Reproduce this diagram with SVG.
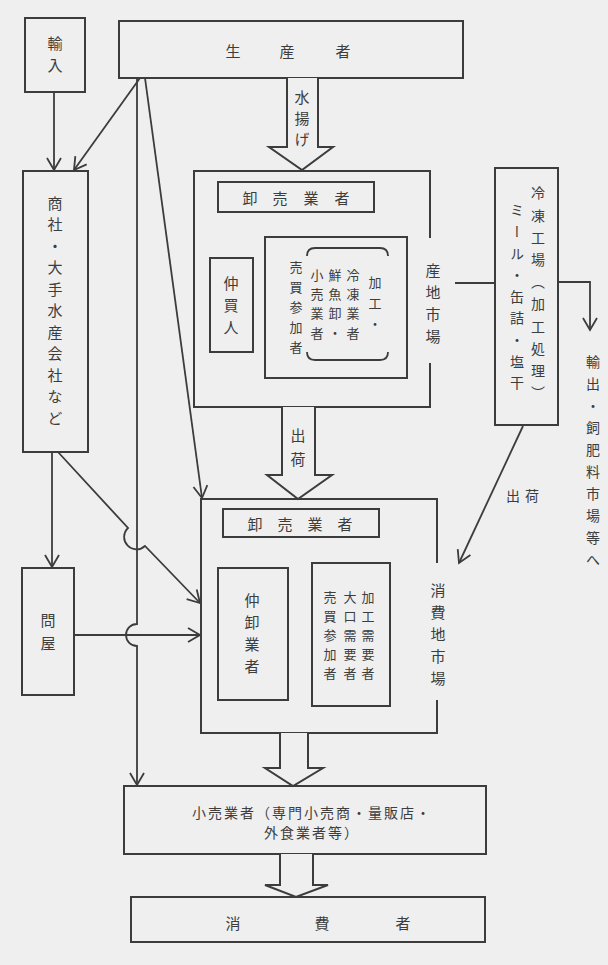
<svg xmlns="http://www.w3.org/2000/svg" width="608" height="965" viewBox="0 0 608 965">
<style>
.bg{fill:#efefef}
.box{fill:none;stroke:#3c3c3c;stroke-width:2}
.ln{fill:none;stroke:#3c3c3c;stroke-width:1.8}
.ha{fill:#efefef;stroke:#3c3c3c;stroke-width:2;stroke-linejoin:miter}
.t{font-family:"Noto Sans CJK JP","Noto Sans CJK SC",sans-serif;fill:#3d3d3d;font-size:15px}
.s{font-size:13px}
.m{font-size:14px}
.v{writing-mode:vertical-rl;text-anchor:middle}
.h{text-anchor:middle;dominant-baseline:central}
</style>
<defs>
<marker id="ah" viewBox="0 0 12 14" refX="12" refY="7" markerWidth="12" markerHeight="14" markerUnits="userSpaceOnUse" orient="auto" overflow="visible">
<path d="M0,0 L12,7 L0,14" fill="none" stroke="#3c3c3c" stroke-width="1.8"/>
</marker>
</defs>
<rect class="bg" x="0" y="0" width="608" height="965"/>

<g id="import">
<rect class="box" x="25" y="18" width="60" height="74"/>
<text class="t v" x="55" y="43 65">輸入</text>
</g>

<g id="producer">
<rect class="box" x="119" y="21" width="344" height="57"/>
<text class="t h" x="233 287 343" y="50">生産者</text>
</g>

<g id="trading">
<rect class="box" x="23" y="171" width="65" height="281"/>
<text class="t v" x="55" y="203 224.5 246 267.5 289 310.5 332 353.5 375 396.5 418">商社・大手水産会社など</text>
</g>

<g id="wholesaler">
<rect class="box" x="22" y="568" width="52" height="127"/>
<text class="t v" x="48" y="620 643">問屋</text>
</g>

<g id="origin-market">
<path class="box" d="M430,238 L430,171 L194,171 L194,407 L430,407 L430,363"/>
<text class="t v" x="433" y="270 292 314 336">産地市場</text>
<rect class="box" x="218" y="182" width="156" height="30"/>
<text class="t h" x="250 280 311 342" y="197">卸売業者</text>
<rect class="box" x="210" y="258" width="43" height="94"/>
<text class="t v" x="231" y="283 305 327">仲買人</text>
<rect class="box" x="265" y="237" width="142" height="141"/>
<path class="ln" d="M307,256 Q307,248 315,248 L380,248 Q388,248 388,256"/>
<path class="ln" d="M307,352 Q307,360 315,360 L380,360 Q388,360 388,352"/>
<text class="t s v" x="375" y="282 303 324">加工・</text>
<text class="t s v" x="353" y="275 294 313 333">冷凍業者</text>
<text class="t s v" x="335" y="275 294 313 333">鮮魚卸・</text>
<text class="t s v" x="317" y="275 294 313 333">小売業者</text>
<text class="t s v" x="296" y="267 287 307 327 347">売買参加者</text>
</g>

<g id="processing">
<rect class="box" x="495" y="168" width="63" height="257"/>
<text class="t m v" x="538" y="193 215.2 237.4 259.6 281.8 304 326.2 348.4 370.6 392.8">冷凍工場（加工処理）</text>
<text class="t m v" x="517" y="210 231.6 253.2 274.8 296.4 318 339.6 361.2 382.8">ミール・缶詰・塩干</text>
</g>

<g id="export">
<text class="t m v" x="593" y="362 384 406 428 450 472 494 516 538 560">輸出・飼肥料市場等へ</text>
</g>

<g id="consumer-market">
<path class="box" d="M437,563 L437,499 L201,499 L201,733 L437,733 L437,700"/>
<text class="t v" x="438" y="590 612 634 656 678">消費地市場</text>
<rect class="box" x="223" y="509" width="156" height="28"/>
<text class="t h" x="255 285 315 345" y="523">卸売業者</text>
<rect class="box" x="218" y="568" width="70" height="132"/>
<text class="t v" x="252" y="600 622 644 666">仲卸業者</text>
<rect class="box" x="312" y="563" width="78" height="143"/>
<text class="t s v" x="368" y="597 616 635 654 673">加工需要者</text>
<text class="t s v" x="350" y="597 616 635 654 673">大口需要者</text>
<text class="t s v" x="330" y="597 616 635 654 673">売買参加者</text>
</g>

<g id="retailer">
<rect class="box" x="124" y="786" width="362" height="68"/>
<text class="t m h" x="312" y="812" letter-spacing="2">小売業者（専門小売商・量販店・</text>
<text class="t m h" x="312" y="832" letter-spacing="2">外食業者等）</text>
</g>

<g id="consumer">
<rect class="box" x="131" y="897" width="354" height="45"/>
<text class="t h" x="233 322 403" y="922">消費者</text>
</g>

<g id="connectors">
<path class="ln" d="M54,92 L54,170" marker-end="url(#ah)"/>
<path class="ln" d="M140,78 L74,170" marker-end="url(#ah)"/>
<path class="ln" d="M137,78 L137,624 A11,11 0 0 0 137,646 L137,785" marker-end="url(#ah)"/>
<path class="ln" d="M145,78 L202,498" marker-end="url(#ah)"/>
<path class="ln" d="M52,452 L52,567" marker-end="url(#ah)"/>
<path class="ln" d="M58,452 L128,528 A12,12 0 0 0 145,546 L200,603" marker-end="url(#ah)"/>
<path class="ln" d="M74,635 L200,635" marker-end="url(#ah)"/>
<path class="ln" d="M455,283 L495,283"/>
<path class="ln" d="M558,282 L590,282 L590,330" marker-end="url(#ah)"/>
<path class="ln" d="M523,426 L459,563" marker-end="url(#ah)"/>
<text class="t m h" x="513 532" y="495">出荷</text>
<path class="ha" d="M287,78 L287,147 L269,147 L302,170 L333,147 L318,147 L318,78"/>
<text class="t v" x="302" y="97 118 139">水揚げ</text>
<path class="ha" d="M282,407 L282,475 L267,475 L298,499 L332,475 L315,475 L315,407"/>
<text class="t v" x="298" y="435 459">出荷</text>
<path class="ha" d="M280,733 L280,768 L265,768 L293,786 L323,768 L308,768 L308,733"/>
<path class="ha" d="M280,854 L280,885 L265,885 L296,897 L328,885 L313,885 L313,854"/>
</g>
</svg>
